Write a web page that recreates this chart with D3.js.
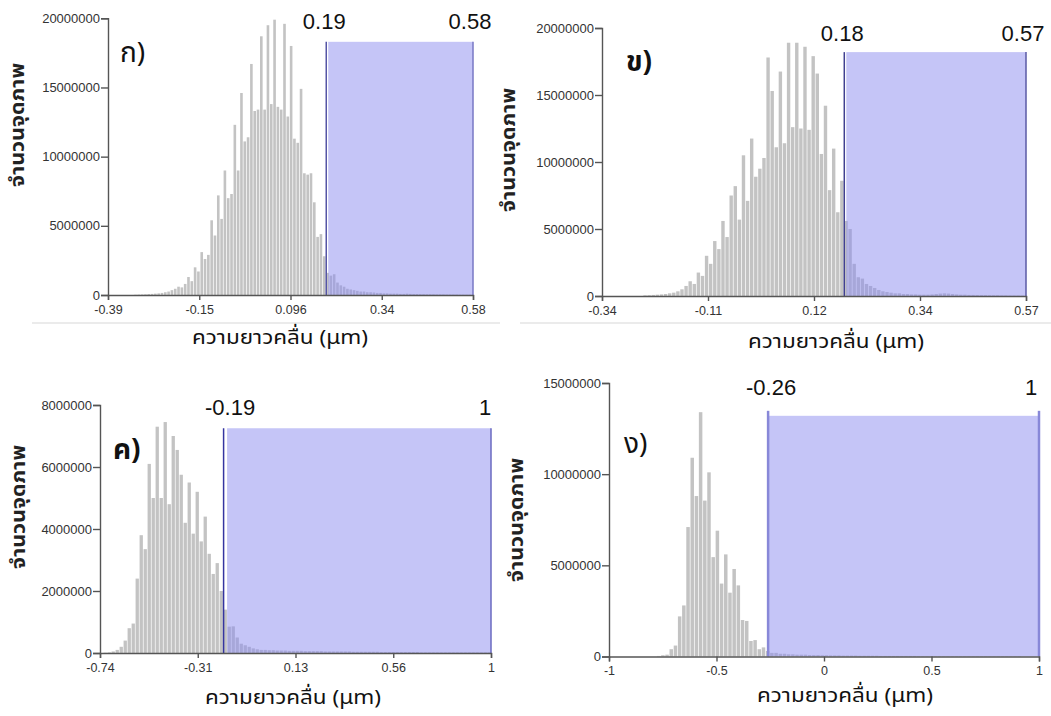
<!DOCTYPE html>
<meta charset="utf-8">
<head>
<style>
  body { margin: 0; background: #fff; font-family: "Liberation Sans", Arial, sans-serif; }
  .axis path, .axis line { stroke: #555; stroke-width: 1.4px; }
  .axis text { font-family: "Liberation Sans", Arial, sans-serif; fill: #333; }
  .xaxis text { font-size: 12.5px; }
  .yaxis text { font-size: 13px; }
  .mark { font-size: 22px; fill: #111; }
  .letter { font-family: "Noto Sans Thai", "Noto Sans", "DejaVu Sans", sans-serif; font-size: 28px; fill: #111; }
  .xtitle { font-family: "Noto Sans Thai", "Noto Sans", "DejaVu Sans", sans-serif; font-size: 20px; fill: #111; }
  .ytitle { font-family: "Noto Sans Thai", "Noto Sans", "DejaVu Sans", sans-serif; font-size: 19px; font-weight: bold; fill: #222; }
</style>
</head>
<body>
<div class="chart"></div>
<script src="https://d3js.org/d3.v7.min.js"></script>
<script>
// histogram counts, in millions of pixels, one value per bin (left to right)
var countsA = [0.02,0.03,0.04,0.05,0.07,0.08,0.1,0.12,0.15,0.2,
  0.25,0.35,0.45,0.6,0.55,0.8,1.3,1.0,2.0,1.7,
  3.1,2.6,2.9,5.4,4.3,7.2,5.5,9.0,7.0,7.3,
  12.3,9.0,14.6,11.1,11.4,16.7,13.3,13.4,18.7,13.4,
  19.5,13.8,19.9,13.6,13.4,19.6,12.9,18.0,11.3,11.0,
  14.9,8.8,8.7,8.8,6.7,4.2,4.4,2.8,
  1.6,1.4,1.5,0.9,0.7,0.6,0.45,0.4,0.35,0.3,
  0.25,0.25,0.2,0.2,0.18,0.15,0.15,0.12,0.12,0.1,
  0.1,0.1,0.08,0.08,0.1,0.08,0.07,0.07,0.06,0.06,
  0.05,0.05,0.05,0.04,0.04,0.04,0.03,0.03,0.03,0.03,
  0.02,0.02,0.02,0.02];
var countsB = [0.05,0.06,0.08,0.1,0.12,0.15,0.2,0.25,0.35,0.5,
  0.75,1.1,0.9,1.75,1.5,3.0,2.4,4.1,3.5,5.6,
  4.4,7.5,8.2,5.7,10.5,7.1,11.75,8.9,9.5,10.3,
  17.8,15.3,11.1,16.75,11.4,18.9,12.6,18.9,12.5,18.6,
  12.4,17.9,16.6,10.6,14.2,7.9,11.0,6.25,8.6,
  5.6,5.0,2.4,1.4,1.3,0.9,0.75,0.6,0.45,0.35,
  0.3,0.25,0.2,0.2,0.15,0.15,0.12,0.12,0.1,0.1,
  0.1,0.12,0.15,0.18,0.2,0.18,0.15,0.12,0.1,0.1,
  0.08,0.08,0.07,0.06,0.06,0.05,0.05,0.05,0.04,0.04,
  0.03,0.03,0.03,0.02];
var countsC = [0.01,0.02,0.05,0.1,0.2,0.4,0.8,0.95,2.4,3.8,
  3.35,6.1,5.0,7.3,5.0,7.45,4.8,7.0,6.55,5.75,
  4.2,5.5,3.85,5.2,3.6,4.4,3.2,2.55,2.9,2.0,
  1.4,0.85,0.86,0.5,0.3,0.25,0.2,0.15,0.12,0.1,
  0.1,0.09,0.09,0.08,0.08,0.08,0.07,0.07,0.07,0.07,
  0.06,0.06,0.06,0.06,0.06,0.05,0.05,0.05,0.05,0.05,
  0.05,0.05,0.04,0.04,0.04,0.04,0.04,0.04,0.04,0.03,
  0.03,0.03,0.03,0.03,0.03,0.03,0.03,0.03,0.03,0.02,
  0.02,0.02,0.02,0.02,0.02,0.02,0.02,0.02,0.02,0.02,
  0.02,0.02,0.02,0.02,0.02,0.02,0.02];
var countsD = [0.03,0.07,0.1,0.4,0.6,2.2,2.8,7.1,10.9,8.8,
  13.4,8.55,10.1,5.45,6.9,4.0,5.6,3.5,4.8,3.9,
  2.0,1.95,0.85,0.9,0.4,0.5,
  0.3,0.2,0.2,0.15,0.15,0.12,0.12,0.1,0.1,0.1,
  0.08,0.08,0.08,0.07,0.07,0.06,0.06,0.06,0.05,0.05,
  0.05,0.05,0.04,0.04,0.04,0.04,0.04,0.03,0.03,0.03,
  0.03,0.03,0.03,0.03,0.03,0.03,0.02,0.02,0.02,0.02,
  0.02,0.02,0.02,0.02,0.02,0.02,0.02,0.02,0.02,0.02,
  0.02,0.02,0.02,0.02,0.02,0.02,0.02,0.02,0.02,0.02,
  0.02];

// first bin edge and bin width (µm)
var binsA = [-0.3204, 0.0088];
var binsB = [-0.2512, 0.0088];
var binsC = [-0.724, 0.0178];
var binsD = [-0.777, 0.0195];

// x axis domains and tick labels
var domainA = [-0.39, 0.58], xTicksA = [-0.39, -0.1475, 0.095, 0.3375, 0.58], xLabelsA = ["-0.39", "-0.15", "0.096", "0.34", "0.58"];
var domainB = [-0.34, 0.57], xTicksB = [-0.34, -0.1125, 0.115, 0.3425, 0.57], xLabelsB = ["-0.34", "-0.11", "0.12", "0.34", "0.57"];
var domainC = [-0.74, 1], xTicksC = [-0.74, -0.305, 0.13, 0.565, 1], xLabelsC = ["-0.74", "-0.31", "0.13", "0.56", "1"];
var domainD = [-1, 1], xTicksD = [-1, -0.5, 0, 0.5, 1], xLabelsD = ["-1", "-0.5", "0", "0.5", "1"];

// y ticks (millions)
var yTicksA = [0, 5, 10, 15, 20];
var yTicksB = [0, 5, 10, 15, 20];
var yTicksC = [0, 2, 4, 6, 8];
var yTicksD = [0, 5, 10, 15];

// selected range and height of the shaded box (millions)
var rangeA = [0.19, 0.58], boxTopA = 18.3;
var rangeB = [0.18, 0.57], boxTopB = 18.2;
var rangeC = [-0.19, 1], boxTopC = 7.25;
var rangeD = [-0.26, 1], boxTopD = 13.2;

var letters = ["ก)", "ข)", "ค)", "ง)"];
var xTitle = "ความยาวคลื่น (μm)";
var yTitle = "จำนวนจุดภาพ";

var panels = [
  { counts: countsA, bins: binsA, domain: domainA, xTicks: xTicksA, xLabels: xLabelsA, yTicks: yTicksA, range: rangeA, boxTop: boxTopA, letter: letters[0],
    x0: 108, x1: 473, yb: 295, yt: 18.3, gap: 2, loCol: "#5555a5", hiCol: "#7777c5", edgeW: 1.5, lift: 0,
    letterXY: [120, 62], yTitleXY: [18, 125], xTitleXY: [280, 344], loOff: -2, hiOff: -3, markY: 29, sep: [32, 500, 323] },
  { counts: countsB, bins: binsB, domain: domainB, xTicks: xTicksB, xLabels: xLabelsB, yTicks: yTicksB, range: rangeB, boxTop: boxTopB, letter: letters[1],
    x0: 602, x1: 1026, yb: 296, yt: 28, gap: 2, loCol: "#404090", hiCol: "#5a5aa5", edgeW: 1.5, lift: 0, bold: true,
    letterXY: [626, 71], yTitleXY: [509, 150], xTitleXY: [836, 348], loOff: -2, hiOff: -3, markY: 41, sep: [520, 1051, 323] },
  { counts: countsC, bins: binsC, domain: domainC, xTicks: xTicksC, xLabels: xLabelsC, yTicks: yTicksC, range: rangeC, boxTop: boxTopC, letter: letters[2],
    x0: 100, x1: 491, yb: 653, yt: 405, gap: 3.5, loCol: "#3535a0", hiCol: "#6a6ac0", edgeW: 1.5, lift: 0, bold: true,
    letterXY: [113, 459], yTitleXY: [19, 507], xTitleXY: [293, 704], loOff: 6.5, hiOff: -6, markY: 415 },
  { counts: countsD, bins: binsD, domain: domainD, xTicks: xTicksD, xLabels: xLabelsD, yTicks: yTicksD, range: rangeD, boxTop: boxTopD, letter: letters[3],
    x0: 609, x1: 1039, yb: 656.5, yt: 383, gap: 0, loCol: "#8888d8", hiCol: "#8888d8", edgeW: 2.5, lift: 5,
    letterXY: [624, 453], yTitleXY: [517, 520], xTitleXY: [845, 702], loOff: 3, hiOff: -8, markY: 395 }
];

var svg = d3.select(".chart").append("svg")
  .attr("width", 1051)
  .attr("height", 716);

var fmtY = d3.format("d");

panels.forEach(function(p) {
  var x = d3.scaleLinear().domain(p.domain).range([p.x0, p.x1]);
  var yMax = p.yTicks[p.yTicks.length - 1];
  var y = d3.scaleLinear().domain([0, yMax]).range([p.yb, p.yt]);
  var g = svg.append("g");

  if (p.sep) {
    g.append("line")
      .attr("x1", p.sep[0]).attr("x2", p.sep[1])
      .attr("y1", p.sep[2]).attr("y2", p.sep[2])
      .attr("stroke", "#e4e4e4").attr("stroke-width", 1.5);
  }

  // bars
  g.selectAll(".bar")
    .data(p.counts)
    .enter().append("rect")
      .attr("class", "bar")
      .attr("x", function(d, i) { return x(p.bins[0] + i * p.bins[1]); })
      .attr("width", function(d, i) { return Math.max(0.5, x(p.bins[0] + (i + 1) * p.bins[1]) - x(p.bins[0] + i * p.bins[1]) - 0.7); })
      .attr("y", function(d) { return y(d); })
      .attr("height", function(d) { return y(0) - y(d); })
      .attr("fill", "#c3c3c3");

  // shaded selection
  var lo = x(p.range[0]), hi = x(p.range[1]);
  g.append("rect")
    .attr("x", lo + p.gap)
    .attr("y", y(p.boxTop))
    .attr("width", hi - lo - p.gap)
    .attr("height", y(0) - y(p.boxTop))
    .attr("fill", "rgb(140,140,240)")
    .attr("fill-opacity", 0.5);
  g.append("line")
    .attr("x1", lo).attr("x2", lo)
    .attr("y1", y(p.boxTop) - p.lift).attr("y2", y(0))
    .attr("stroke", p.loCol).attr("stroke-width", p.edgeW);
  g.append("line")
    .attr("x1", hi).attr("x2", hi)
    .attr("y1", y(p.boxTop) - p.lift).attr("y2", y(0))
    .attr("stroke", p.hiCol).attr("stroke-width", p.edgeW);

  // axes
  g.append("g")
    .attr("class", "axis xaxis")
    .attr("transform", "translate(0," + p.yb + ")")
    .call(d3.axisBottom(x).tickValues(p.xTicks)
      .tickFormat(function(d, i) { return p.xLabels[i]; })
      .tickSizeOuter(0).tickSize(5).tickPadding(5));
  g.append("g")
    .attr("class", "axis yaxis")
    .attr("transform", "translate(" + p.x0 + ",0)")
    .call(d3.axisLeft(y).tickValues(p.yTicks)
      .tickFormat(function(d) { return fmtY(d * 1e6); })
      .tickSizeOuter(0).tickSize(7).tickPadding(1));

  // range labels
  g.append("text").attr("class", "mark")
    .attr("x", lo + p.loOff).attr("y", p.markY)
    .attr("text-anchor", "middle")
    .text(String(p.range[0]));
  g.append("text").attr("class", "mark")
    .attr("x", hi + p.hiOff).attr("y", p.markY)
    .attr("text-anchor", "middle")
    .text(String(p.range[1]));

  // panel letter and titles
  g.append("text").attr("class", "letter")
    .attr("x", p.letterXY[0]).attr("y", p.letterXY[1])
    .style("font-weight", p.bold ? "bold" : "normal")
    .text(p.letter);
  g.append("text").attr("class", "xtitle")
    .attr("x", p.xTitleXY[0]).attr("y", p.xTitleXY[1])
    .attr("text-anchor", "middle")
    .attr("textLength", 176).attr("lengthAdjust", "spacingAndGlyphs")
    .text(xTitle);
  g.append("text").attr("class", "ytitle")
    .attr("transform", "translate(" + p.yTitleXY[0] + "," + p.yTitleXY[1] + ") rotate(-90)")
    .attr("text-anchor", "middle")
    .attr("dominant-baseline", "central")
    .attr("textLength", 124).attr("lengthAdjust", "spacingAndGlyphs")
    .text(yTitle);
});
</script>
</body>
